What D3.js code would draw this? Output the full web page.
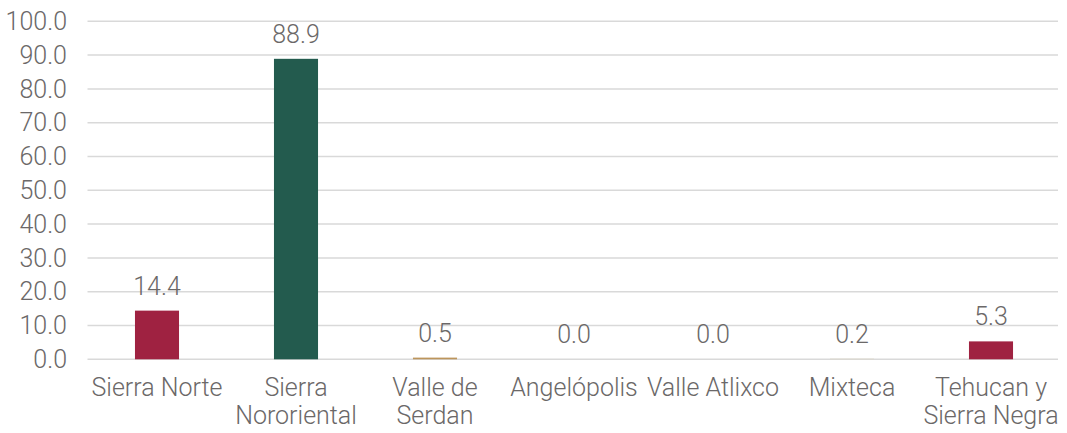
<!DOCTYPE html>
<html>
<head>
<meta charset="utf-8">
<script src="https://cdn.jsdelivr.net/npm/d3@7"></script>
<style>
  body { margin: 0; background: #fff; }
  text { font-family: "Roboto", "Liberation Sans", sans-serif; font-weight: 300; fill: #6b6868; }
</style>
</head>
<body>
<div id="chart"></div>
<script>
// datos
var categories = ['Sierra Norte', 'Sierra Nororiental', 'Valle de Serdan', 'Angelópolis', 'Valle Atlixco', 'Mixteca', 'Tehucan y Sierra Negra'];
var catLines = [['Sierra Norte'], ['Sierra', 'Nororiental'], ['Valle de', 'Serdan'], ['Angelópolis'], ['Valle Atlixco'], ['Mixteca'], ['Tehucan y', 'Sierra Negra']];
var values = [14.4, 88.9, 0.5, 0.0, 0.0, 0.2, 5.3];
var barColors = ['#9f2241', '#235b4e', '#bc955c', '#9f2241', '#9f2241', '#dcd6c8', '#9f2241'];
var yTicks = [0, 10, 20, 30, 40, 50, 60, 70, 80, 90, 100];

var W = 1067, H = 433;
var mLeft = 87.5, mRight = 1060.5, mTop = 21.3, mBottom = 359.3;

var svg = d3.select('#chart').append('svg')
  .attr('width', W)
  .attr('height', H);

var x = d3.scaleBand()
  .domain(categories)
  .range([mLeft, mRight])
  .paddingInner(0.683)
  .paddingOuter(0.3415);

var y = d3.scaleLinear()
  .domain([0, 100])
  .range([mBottom, mTop]);

// lineas de cuadricula
svg.selectAll('.grid')
  .data(yTicks)
  .enter()
  .append('line')
  .attr('x1', mLeft)
  .attr('x2', 1058)
  .attr('y1', function(d) { return y(d); })
  .attr('y2', function(d) { return y(d); })
  .attr('stroke', '#d9d9d9')
  .attr('stroke-width', 1.5);

// etiquetas eje y
svg.selectAll('.ylab')
  .data(yTicks)
  .enter()
  .append('text')
  .attr('x', 67)
  .attr('y', function(d) { return y(d); })
  .attr('dy', '0.35em')
  .attr('text-anchor', 'end')
  .attr('font-size', 25)
  .text(function(d) { return d.toFixed(1); });

// barras
svg.selectAll('.bar')
  .data(values)
  .enter()
  .append('rect')
  .attr('x', function(d, i) { return x(categories[i]); })
  .attr('y', function(d) { return y(d); })
  .attr('width', x.bandwidth())
  .attr('height', function(d) { return Math.max(0, mBottom - y(d)); })
  .attr('fill', function(d, i) { return barColors[i]; });

// etiquetas de valores
svg.selectAll('.val')
  .data(values)
  .enter()
  .append('text')
  .attr('x', function(d, i) { return x(categories[i]) + x.bandwidth() / 2; })
  .attr('y', function(d) { return y(d) - 16; })
  .attr('text-anchor', 'middle')
  .attr('font-size', 25)
  .text(function(d) { return d.toFixed(1); });

// etiquetas de categorias
var cat = svg.selectAll('.cat')
  .data(catLines)
  .enter()
  .append('text')
  .attr('text-anchor', 'middle')
  .attr('font-size', 25)
  .attr('x', function(d, i) { return x(categories[i]) + x.bandwidth() / 2; })
  .attr('y', 396);

cat.selectAll('tspan')
  .data(function(d) { return d; })
  .enter()
  .append('tspan')
  .attr('x', function() { return d3.select(this.parentNode).attr('x'); })
  .attr('dy', function(d, i) { return i === 0 ? 0 : 28; })
  .text(function(d) { return d; });
</script>
</body>
</html>
